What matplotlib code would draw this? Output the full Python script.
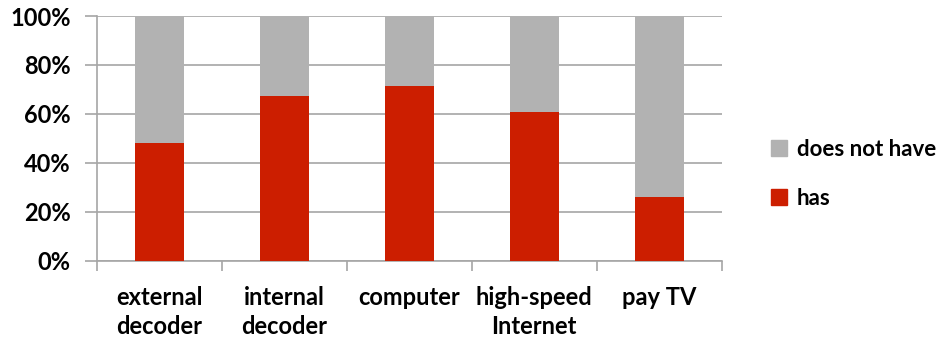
import numpy as np
import matplotlib.pyplot as plt
from matplotlib.patches import Patch
from matplotlib.ticker import PercentFormatter

# datos
categorias = ['external\ndecoder', 'internal\ndecoder', 'computer', 'high-speed\nInternet', 'pay TV']
tiene = [48.3, 67.5, 71.4, 60.8, 26.0]
no_tiene = [100 - v for v in tiene]

rojo = '#CC1E00'
gris = '#B2B2B2'

plt.rcParams['font.family'] = ['Lato', 'DejaVu Sans']
plt.rcParams['font.weight'] = 'bold'

fig = plt.figure(figsize=(9.52, 3.41), dpi=100)
ax = fig.add_axes([0.102, 0.235, 0.656, 0.718])

x = np.arange(len(categorias))
ax.bar(x, tiene, width=0.39, color=rojo, zorder=3)
ax.bar(x, no_tiene, bottom=tiene, width=0.39, color=gris, zorder=3)

ax.set_xlim(-0.5, len(categorias) - 0.5)
ax.set_ylim(0, 100)
ax.set_yticks(np.arange(0, 101, 20))
ax.yaxis.set_major_formatter(PercentFormatter(decimals=0))
ax.grid(axis='y', color='#A6A6A6', linewidth=1.2, zorder=0)

ax.set_xticks(x)
ax.set_xticklabels(categorias, fontsize=17, fontweight='bold', linespacing=1.3)
ax.set_xticks(np.arange(-0.5, len(categorias), 1), minor=True)
ax.tick_params(axis='x', which='major', length=0, pad=18)
ax.tick_params(axis='x', which='minor', length=7, color='#A6A6A6', width=1.2)
ax.tick_params(axis='y', length=9, color='#A6A6A6', width=1.2, labelsize=17, pad=10)
for t in ax.get_yticklabels():
    t.set_fontweight('bold')

for s in ['top', 'right']:
    ax.spines[s].set_visible(False)
for s in ['left', 'bottom']:
    ax.spines[s].set_color('#A6A6A6')
    ax.spines[s].set_linewidth(1.2)

handles = [Patch(color=gris, label='does not have'), Patch(color=rojo, label='has')]
fig.legend(handles=handles, loc='center left', bbox_to_anchor=(0.81, 0.49),
           frameon=False, prop={'weight': 'bold', 'size': 16},
           borderpad=0, borderaxespad=0,
           handlelength=0.7, handleheight=0.7, handletextpad=0.45, labelspacing=1.25)

fig.savefig('out.png', dpi=100)
